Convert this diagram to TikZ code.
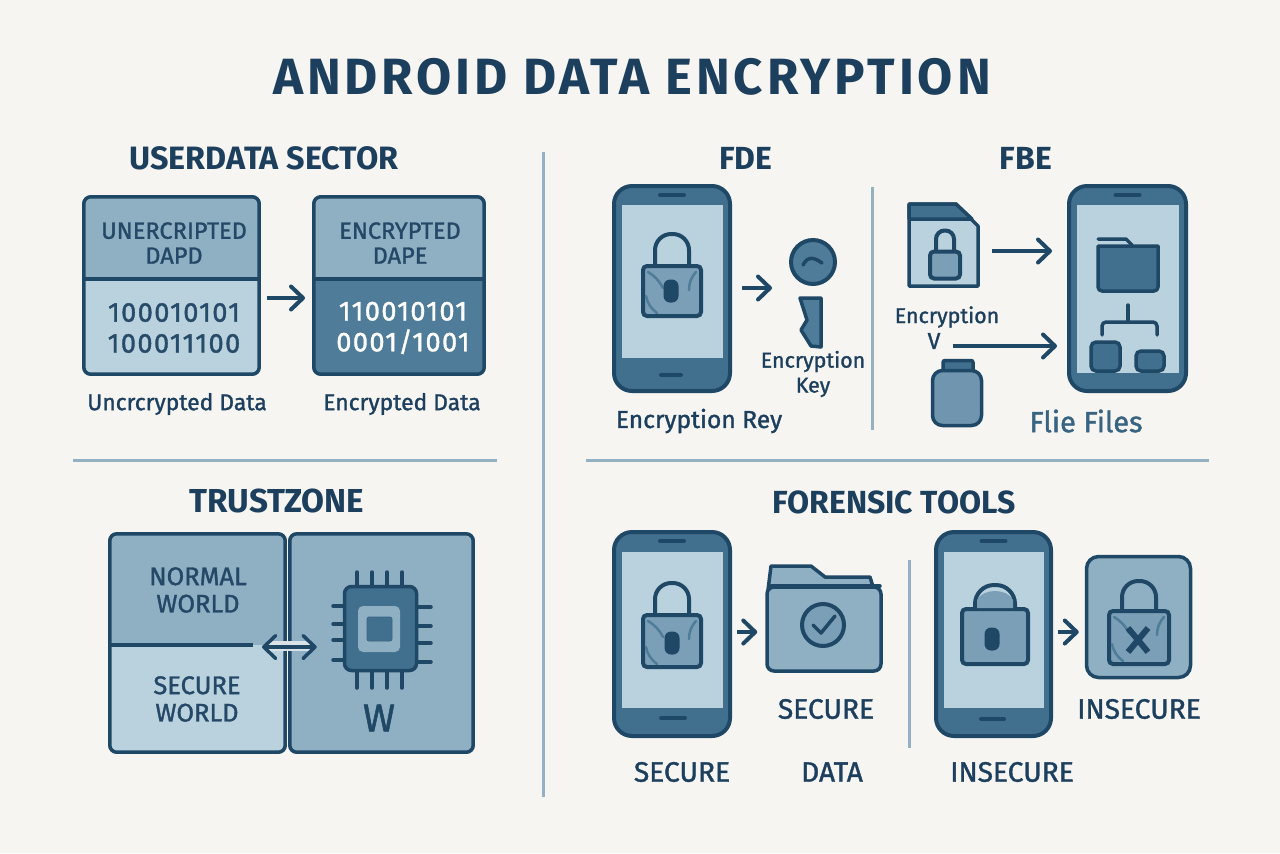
\documentclass[tikz,border=0pt]{standalone}
\usepackage{fontspec}
\setmainfont{Fira Sans}
\newfontfamily\medfont[FakeBold=1.3]{Fira Sans}
\usetikzlibrary{arrows.meta, positioning, calc, shapes.geometric}
\definecolor{paper}{HTML}{F6F5F1}
\definecolor{ink}{HTML}{1D3F5E}
\definecolor{outline}{HTML}{1F4766}
\definecolor{steel}{HTML}{4E7C99}
\definecolor{barblue}{HTML}{41708E}
\definecolor{midblue}{HTML}{8FAFC2}
\definecolor{lockblue}{HTML}{7B9FB6}
\definecolor{lightblue}{HTML}{B9D2DD}
\definecolor{rule}{HTML}{93B1C3}
\tikzstyle{bigtitle} = [font=\bfseries\fontsize{29}{32}\selectfont\addfontfeature{LetterSpace=7.5}, text=ink]
\tikzstyle{sectitle} = [font=\bfseries\fontsize{18.2}{20}\selectfont, text=ink]
\tikzstyle{boxtext} = [font=\medfont\fontsize{13.4}{14.2}\selectfont, text=ink!85!steel, align=center]
\tikzstyle{bits} = [font=\medfont\fontsize{15.5}{17.6}\selectfont\addfontfeature{LetterSpace=5}, align=center]
\tikzstyle{caption} = [font=\medfont\fontsize{13}{14.2}\selectfont, text=ink, align=center]
\tikzstyle{bigcaption} = [font=\medfont\fontsize{16}{18}\selectfont, text=ink]
\tikzstyle{divider} = [draw=rule, line width=0.06cm]
\tikzstyle{panel} = [rectangle, rounded corners=0.14cm, draw=outline, line width=0.07cm, inner sep=0pt]
\tikzstyle{phonecase} = [rectangle, rounded corners=0.36cm, draw=outline, line width=0.08cm, fill=barblue, inner sep=0pt]
\tikzstyle{screen} = [rectangle, fill=lightblue, inner sep=0pt]
\tikzstyle{slot} = [draw=outline, line width=0.08cm, line cap=round]
\tikzstyle{lockbody} = [rectangle, rounded corners=0.08cm, draw=outline, line width=0.08cm, fill=lockblue, inner sep=0pt]
\tikzstyle{shackle} = [draw=outline, line width=0.08cm]
\tikzstyle{keyhole} = [rectangle, rounded corners=0.13cm, fill=outline, inner sep=0pt, minimum width=0.3cm, minimum height=0.46cm]
\tikzstyle{thinshape} = [draw=outline, line width=0.07cm, line join=round, line cap=round]
\tikzstyle{arrow} = [draw=outline, line width=0.08cm, ->, >={Straight Barb[length=0.24cm, width=0.46cm, line cap=round, line join=round]}]
\newcommand{\phone}[7]{%
  \node (#1) [phonecase, minimum width=#4*0.02cm, minimum height=#5*0.02cm] at (#2,#3) {};
  \node (#1screen) [screen, minimum width=(#4-15)*0.02cm, minimum height=#7*0.02cm] at (#2,#6) {};
  \draw [slot] ($(#1.north)+(-12,11)$) -- ($(#1.north)+(12,11)$);
}
\newcommand{\padlock}[7]{%
  \node (#1) [lockbody, minimum width=#4*0.02cm, minimum height=#5*0.02cm] at (#2,#3) {};
  \draw [shackle, rounded corners=#6*0.0095cm] ($(#1.north)+(-#6/2,1)$) -- ++(0,-#7) -- ++(#6,0) -- ++(0,#7);
}
\newcommand{\lockmarks}[1]{%
  \draw [steel, line width=0.05cm, line cap=round] ($(#1.north west)+(7,8)$) to[bend left=15] ($(#1.north west)+(22,24)$);
  \draw [steel, line width=0.05cm, line cap=round] ($(#1.south west)+(5,-22)$) to[bend right=20] ($(#1.south west)+(16,-5)$);
  \draw [steel, line width=0.05cm, line cap=round] ($(#1.north east)+(-7,8)$) to[bend right=20] ($(#1.north east)+(-14,26)$);
}
\begin{document}
\begin{tikzpicture}[x=0.02cm, y=-0.02cm]
\useasboundingbox (0,0) rectangle (1280,853);
\fill [paper] (0,0) rectangle (1280,853);

% Title and separating rules
\node (title) [bigtitle] at (632,77) {ANDROID DATA ENCRYPTION};
\draw [divider] (543,152) -- (543,797);
\draw [divider] (73,460) -- (497,460);
\draw [divider] (586,460) -- (1209,460);
\draw [divider] (872,187) -- (872,430);
\draw [divider] (909,560) -- (909,748);

% Userdata sector
\node (sectortitle) [sectitle, font=\bfseries\fontsize{18.4}{20}\selectfont] at (264,158) {USERDATA SECTOR};
\fill [midblue, rounded corners=0.14cm] (83,196) rectangle (260,279);
\fill [lightblue, rounded corners=0.14cm] (83,279) rectangle (260,375);
\node (plainbox) [panel, minimum width=3.51cm, minimum height=3.55cm] at (171.5,285.5) {};
\draw [draw=outline, line width=0.07cm] (plainbox.west |- 0,279) -- (plainbox.east |- 0,279);
\node (plainhead) [boxtext] at (174,243) {UNERCRIPTED \\ DAPD};
\node (plainbits) [bits, text=ink!80!steel] at (174,328) {100010101 \\ 100011100};
\node (plaincap) [caption] at (177,404) {Uncrcrypted Data};
\fill [midblue, rounded corners=0.14cm] (313,196) rectangle (485,279);
\fill [steel, rounded corners=0.14cm] (313,279) rectangle (485,375);
\node (encbox) [panel, minimum width=3.41cm, minimum height=3.55cm] at (399,285.5) {};
\draw [draw=outline, line width=0.07cm] (encbox.west |- 0,279) -- (encbox.east |- 0,279);
\node (enchead) [boxtext] at (400,243) {ENCRYPTED \\ DAPE};
\node (encbits) [bits, text=white] at (403,328) {110010101 \\ 0001/1001};
\node (enccap) [caption] at (402,404) {Encrypted Data};
\coordinate (sectorrow) at (0,298);
\draw [arrow, shorten <=0.12cm, shorten >=0.14cm] (plainbox.east |- sectorrow) -- (encbox.west |- sectorrow);

% FDE
\node (fdetitle) [sectitle] at (746,158) {FDE};
\phone{phonefde}{672}{288.5}{116}{205}{281.5}{153}
\draw [slot] (661,375) -- (681,375);
\padlock{lockfde}{672}{291}{58}{50}{34}{31}
\lockmarks{lockfde}
\node (holefde) [keyhole] at (671,291) {};
\coordinate (fdeend) at (772,288);
\draw [arrow, shorten <=0.2cm] (phonefde.east |- fdeend) -- (fdeend);
\node (keybow) [circle, draw=outline, line width=0.08cm, fill=steel, minimum size=0.88cm, inner sep=0pt] at (813,262) {};
\draw [outline, line width=0.07cm, line cap=round] (803,265) .. controls (808,255) and (815,258) .. (822,263);
\draw [thinshape, fill=steel] (800,298) -- (821,298) -- (821,347) -- (811,346) -- (801,330) -- (807,320) -- cycle;
\node (keylabel) [caption, font=\medfont\fontsize{12.2}{14.2}\selectfont] at (813,374) {Encryption \\ Key};
\node (fdecap) [caption, font=\medfont\fontsize{14}{15}\selectfont] at (699,421) {Encryption Rey};

% FBE
\node (fbetitle) [sectitle] at (1026,158) {FBE};
\phone{phonefbe}{1127.5}{288.5}{117}{205}{289}{168}
\draw [thinshape, fill=lightblue] (909,204) -- (956,204) -- (978,226) -- (978,286) -- (909,286) -- cycle;
\draw [thinshape, fill=barblue] (909,204) -- (956,204) -- (972,219) -- (909,219) -- cycle;
\padlock{lockfbe}{945}{265}{30}{27}{18}{20}
\node (fbedoc) [inner sep=0pt, minimum width=1.42cm, minimum height=1.66cm] at (943.5,245) {};
\coordinate (fberow) at (0,251);
\draw [arrow, shorten <=0.26cm, shorten >=0.3cm] (fbedoc.east |- fberow) -- (phonefbe.west |- fberow);
\node (fbekey) [caption, font=\medfont\fontsize{12.2}{14.2}\selectfont] at (947,317) {Encryption};
\node (fbev) [caption] at (934,341) {V};
\coordinate (fberowb) at (0,346);
\draw [arrow, shorten <=0.12cm, shorten >=0.2cm] (fbev.east |- fberowb) -- (phonefbe.west |- fberowb);
\node (jarlid) [panel, rounded corners=0.04cm, fill=barblue, minimum width=0.6cm, minimum height=0.26cm] at (958,367) {};
\node (jar) [panel, rounded corners=0.2cm, fill=lockblue!75!steel, minimum width=0.98cm, minimum height=1.1cm] at (957,398) {};
\draw [thinshape, fill=barblue] (1098,246) -- (1158,246) -- (1158,284) [rounded corners=0.08cm] -- (1158,291) -- (1098,291) [sharp corners] -- cycle;
\draw [thinshape] (1098,239) -- (1126,239) -- (1132,245);
\draw [thinshape] (1128,305) -- (1128,321);
\draw [thinshape, rounded corners=0.08cm] (1102,335) -- (1102,322) -- (1157,322) -- (1157,335);
\node (fbefilea) [panel, rounded corners=0.1cm, fill=barblue, minimum width=0.58cm, minimum height=0.58cm] at (1105.5,356.5) {};
\node (fbefileb) [panel, rounded corners=0.1cm, fill=barblue, minimum width=0.56cm, minimum height=0.4cm] at (1150,361) {};
\node (fbecap) [caption, font=\medfont\fontsize{16.5}{18}\selectfont, text=barblue!75!ink] at (1086,421) {Flie Files};

% TrustZone
\node (tztitle) [sectitle, font=\bfseries\fontsize{18.9}{21}\selectfont] at (277,501) {TRUSTZONE};
\fill [midblue, rounded corners=0.14cm] (109,533) rectangle (286,645);
\fill [lightblue, rounded corners=0.14cm] (109,645) rectangle (286,753);
\node (worldbox) [panel, minimum width=3.51cm, minimum height=4.37cm] at (197.5,643) {};
\node (chipbox) [panel, fill=midblue, minimum width=3.67cm, minimum height=4.37cm] at (381.5,643) {};
\draw [draw=outline, line width=0.07cm] (worldbox.west |- 0,645) -- (253,645);
\node (normalworld) [boxtext, font=\medfont\fontsize{14.5}{15.6}\selectfont] at (198,590) {NORMAL \\ WORLD};
\node (secureworld) [boxtext, font=\medfont\fontsize{14.5}{15.6}\selectfont] at (197,699) {SECURE \\ WORLD};
% chip pins
\foreach \px in {357,372,387,402} \draw [thinshape] (\px,572) -- (\px,588);
\foreach \px in {357,372,387,402} \draw [thinshape] (\px,670) -- (\px,688);
\foreach \py in {606,624,640,660} \draw [thinshape] (333,\py) -- (345,\py);
\foreach \py in {607,626,643,662} \draw [thinshape] (416,\py) -- (431,\py);
\node (chip) [panel, fill=barblue, minimum width=1.44cm, minimum height=1.68cm] at (380.5,628.5) {};
\node (chipmid) [rectangle, rounded corners=0.1cm, fill=midblue, inner sep=0pt, minimum width=0.84cm, minimum height=0.92cm] at (379,629) {};
\node (chipcore) [rectangle, rounded corners=0.04cm, fill=barblue, draw=barblue!80!ink, inner sep=0pt, minimum width=0.5cm, minimum height=0.48cm] at (379.5,629) {};
\node (chipw) [font=\medfont\fontsize{22}{24}\selectfont, text=outline] at (379,718) {W};
\coordinate (linkstart) at (262,647);
\draw [lightblue!50!paper, line width=0.2cm] (268,646) -- (312,646);
\draw [arrow, <->, line width=0.07cm, shorten >=0.52cm] (linkstart) -- (chip.west |- linkstart);

% Forensic tools
\node (forensictitle) [sectitle] at (894,502) {FORENSIC TOOLS};
\phone{phonesec}{672}{634}{116}{204}{630}{156}
\draw [slot] (661,718) -- (685,718);
\padlock{locksec}{672}{641}{58}{52}{34}{31}
\lockmarks{locksec}
\node (holesec) [keyhole] at (672,643) {};
\draw [thinshape, fill=midblue] (768,590) -- (771,566) -- (811,566) -- (825,577) -- (870,577) -- (874,590) -- cycle;
\node (folder) [panel, fill=midblue, minimum width=2.28cm, minimum height=1.68cm] at (824,629) {};
\draw [thinshape] (771,586) -- (880,586);
\node (foldercheck) [circle, draw=outline, line width=0.08cm, fill=lockblue, minimum size=0.84cm, inner sep=0pt] at (823,625) {};
\draw [thinshape] (813,625) -- (821,633) -- (835,616);
\coordinate (secrow) at (0,632);
\draw [arrow, shorten <=0.1cm, shorten >=0.16cm] (phonesec.east |- secrow) -- (folder.west |- secrow);
\node (securecap) [bigcaption] at (826,709) {SECURE};
\node (securelabel) [bigcaption] at (682,772) {SECURE};
\node (datalabel) [bigcaption] at (832,772) {DATA};
\phone{phoneins}{993.5}{634}{115}{204}{630}{156}
\draw [slot] (981,719) -- (1004,719);
\padlock{lockins}{995}{636.5}{66}{55}{40}{23}
\fill [lockblue] (977,608) -- (977,600) .. controls (983,588) and (1007,588) .. (1013,600) -- (1013,608) -- cycle;
\node (holeins) [keyhole] at (992,639) {};
\node (lockbox) [panel, fill=midblue, rounded corners=0.24cm, minimum width=2.08cm, minimum height=2.42cm] at (1138.5,617) {};
\padlock{lockopen}{1139}{637.5}{60}{53}{34}{29}
\lockmarks{lockopen}
\draw [outline, line width=0.12cm] (1128,628) -- (1148,652);
\draw [outline, line width=0.12cm] (1148,628) -- (1128,652);
\coordinate (insrow) at (0,632);
\draw [arrow, shorten <=0.1cm, shorten >=0.12cm] (phoneins.east |- insrow) -- (lockbox.west |- insrow);
\node (insecurecap) [bigcaption] at (1139,709) {INSECURE};
\node (insecurelabel) [bigcaption] at (1012,772) {INSECURE};

\end{tikzpicture}
\end{document}
